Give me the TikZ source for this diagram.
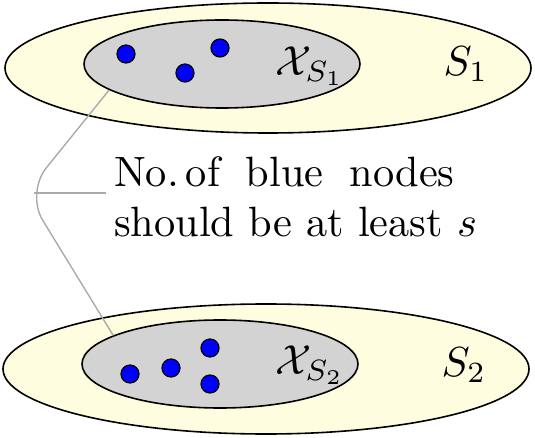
\documentclass[tikz,border=0pt]{standalone}
\usepackage{amsmath,amssymb}
\usepackage{xcolor}
\usepackage{tikz}
\usetikzlibrary{positioning,calc,shapes.geometric}
\definecolor{setyellow}{RGB}{255,253,224}
\definecolor{poolgray}{RGB}{211,211,211}
\definecolor{guidegray}{RGB}{170,170,170}

\begin{document}
\begin{tikzpicture}[
        x=0.5pt, y=-0.5pt,
        outerset/.style={
            ellipse,
            draw=black,
            line width=0.8pt,
            fill=setyellow,
            minimum width=263pt,
            minimum height=65pt,
            inner sep=0pt
        },
        pool/.style={
            ellipse,
            draw=black,
            line width=0.8pt,
            fill=poolgray,
            minimum width=138pt,
            minimum height=44pt,
            inner sep=0pt
        },
        bluedot/.style={
            circle,
            draw=black,
            line width=0.6pt,
            fill=blue,
            minimum size=9pt,
            inner sep=0pt
        },
        setlabel/.style={scale=2.1, inner sep=0pt},
        guide/.style={draw=guidegray, line width=0.7pt}
    ]
    \useasboundingbox (0,0) rectangle (535,438);

    % upper set
    \node[outerset] (set1) at (268,68) {};
    \node[pool] (pool1) at (222,64) {};
    \node[bluedot] (a1) at (126,54) {};
    \node[bluedot] (a2) at (185,73) {};
    \node[bluedot] (a3) at (220,48) {};
    \node[setlabel] (x1) at (310,66) {$\mathcal{X}_{S_1}$};
    \node[setlabel] (s1) at (466,64) {$S_1$};

    % lower set
    \node[outerset] (set2) at (266,369) {};
    \node[pool] (pool2) at (220,364) {};
    \node[bluedot] (b1) at (130,374) {};
    \node[bluedot] (b2) at (171,368) {};
    \node[bluedot] (b3) at (210,348) {};
    \node[bluedot] (b4) at (210,384) {};
    \node[setlabel] (x2) at (310,365) {$\mathcal{X}_{S_2}$};
    \node[setlabel] (s2) at (464,365) {$S_2$};

    % note
    \node[scale=2.12, inner sep=1.7pt, align=left, anchor=base west] (note) at (106,237)
        {No.\,of\ \;blue\ \;nodes\\should be at least $s$};

    \coordinate (bend) at (26,193);
    \coordinate (branch) at (34,193);
    \draw[guide, rounded corners=16pt]
        (pool1.193) -- (bend) -- (pool2.165);
    \draw[guide] (branch) -- (branch -| note.west);

\end{tikzpicture}
\end{document}
